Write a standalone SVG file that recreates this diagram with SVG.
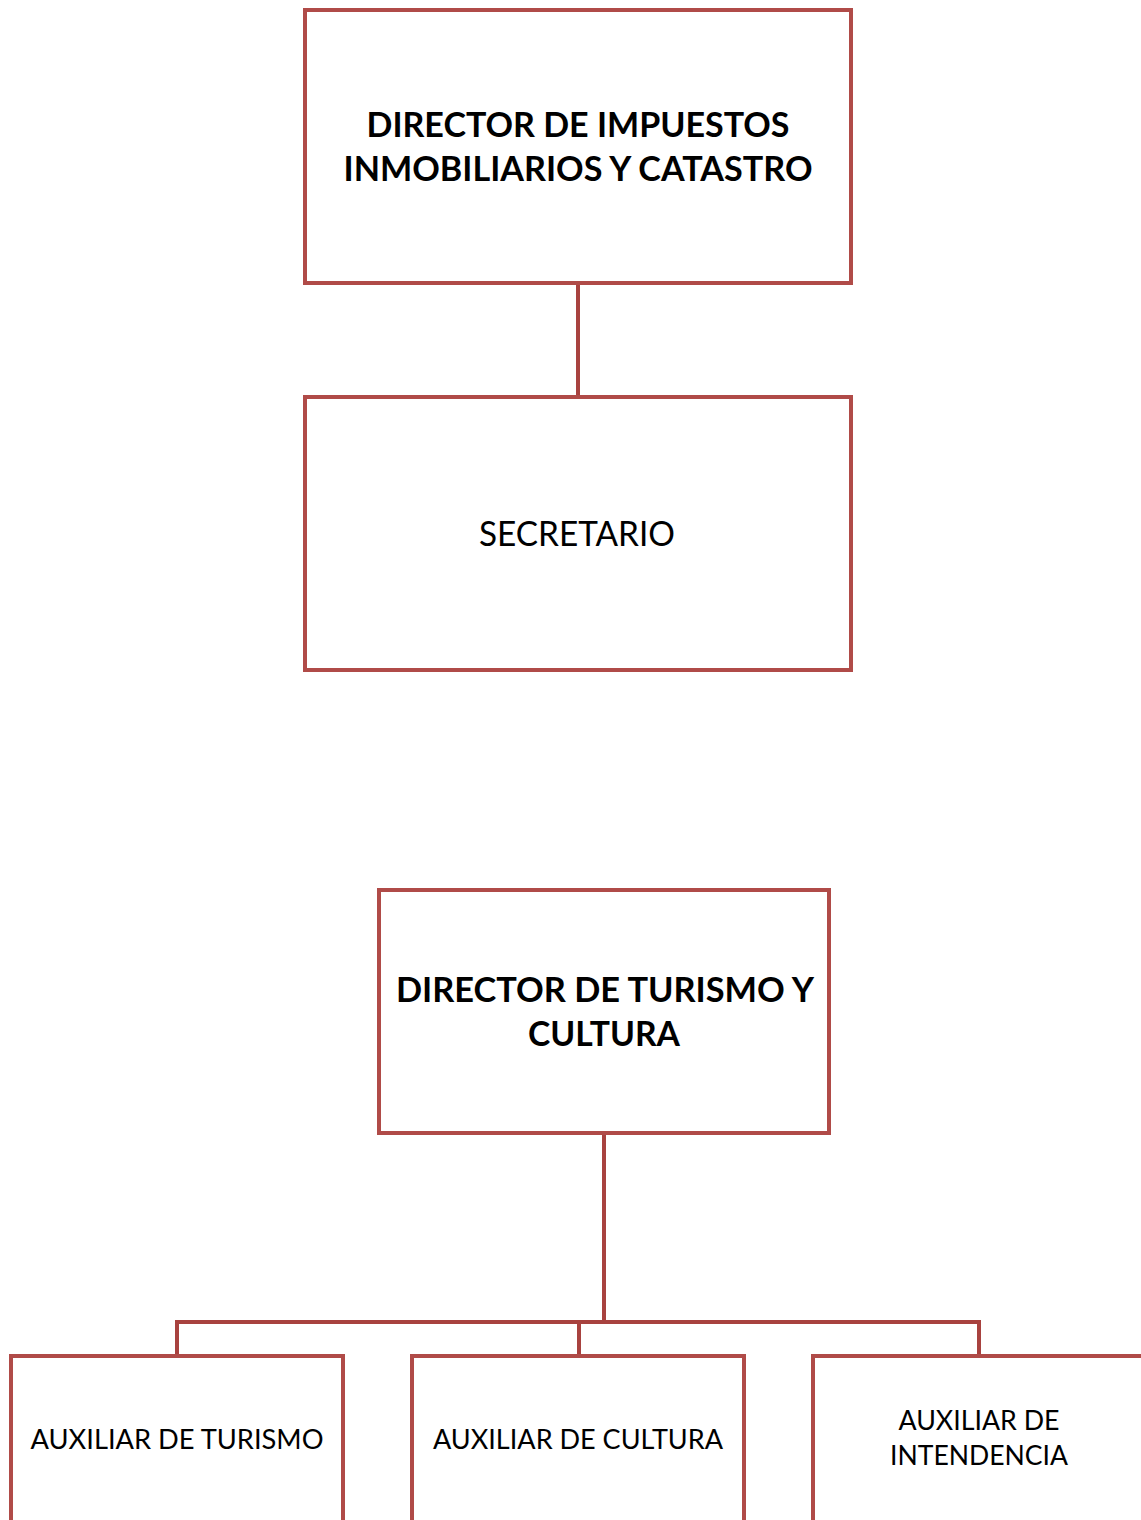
<svg xmlns="http://www.w3.org/2000/svg" width="1141" height="1520" viewBox="0 0 1141 1520">
<style>
.box{fill:#fff;stroke:#B04B48;stroke-width:4}
.con{fill:none;stroke:#A8423F;stroke-width:4}
.t{font-family:Lato,"Open Sans","Liberation Sans",sans-serif;fill:#000;text-anchor:middle}
.b{font-weight:bold;font-size:35px}
.r{font-size:35px}
.s{font-size:26px}
</style>
<rect width="1141" height="1520" fill="#fff"/>
<g id="connectors">
<line class="con" x1="578" y1="283" x2="578" y2="397"/>
<line class="con" x1="604" y1="1133" x2="604" y2="1322"/>
<polyline class="con" points="177,1356 177,1322 979,1322 979,1356"/>
<line class="con" x1="579" y1="1322" x2="579" y2="1356"/>
</g>
<g id="n1">
<rect class="box" x="305" y="10" width="546" height="273"/>
<text class="t b" x="578" y="137" textLength="423" lengthAdjust="spacingAndGlyphs">DIRECTOR DE IMPUESTOS</text>
<text class="t b" x="578" y="181" textLength="469" lengthAdjust="spacingAndGlyphs">INMOBILIARIOS Y CATASTRO</text>
</g>
<g id="n2">
<rect class="box" x="305" y="397" width="546" height="273"/>
<text class="t r" x="577" y="546" textLength="196" lengthAdjust="spacingAndGlyphs">SECRETARIO</text>
</g>
<g id="n3">
<rect class="box" x="379" y="890" width="450" height="243"/>
<text class="t b" x="605" y="1002" textLength="418" lengthAdjust="spacingAndGlyphs">DIRECTOR DE TURISMO Y</text>
<text class="t b" x="604" y="1046" textLength="152" lengthAdjust="spacingAndGlyphs">CULTURA</text>
</g>
<g id="n4">
<rect class="box" x="11" y="1356" width="332" height="180"/>
<text class="t s" x="177" y="1449" textLength="293" lengthAdjust="spacingAndGlyphs">AUXILIAR DE TURISMO</text>
</g>
<g id="n5">
<rect class="box" x="412" y="1356" width="332" height="180"/>
<text class="t s" x="578" y="1449" textLength="290" lengthAdjust="spacingAndGlyphs">AUXILIAR DE CULTURA</text>
</g>
<g id="n6">
<rect class="box" x="813" y="1356" width="340" height="180"/>
<text class="t s" x="979" y="1430" textLength="161" lengthAdjust="spacingAndGlyphs">AUXILIAR DE</text>
<text class="t s" x="979" y="1465" textLength="178" lengthAdjust="spacingAndGlyphs">INTENDENCIA</text>
</g>
</svg>
